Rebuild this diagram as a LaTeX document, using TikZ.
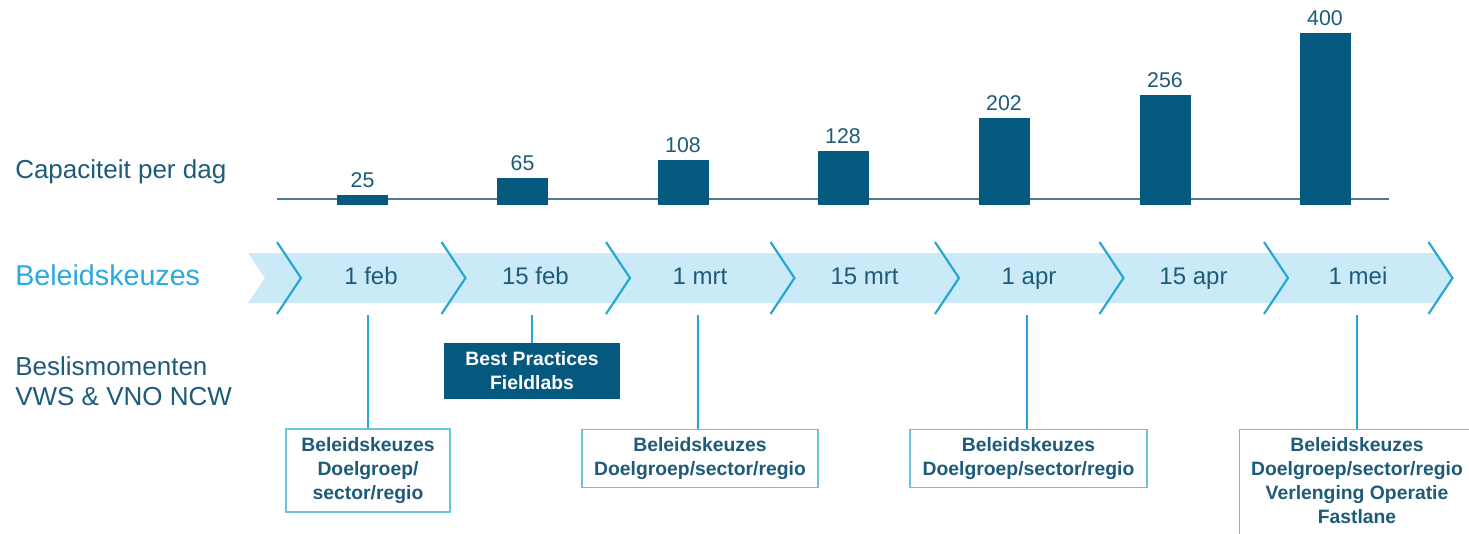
\documentclass[tikz,border=0pt]{standalone}
\usepackage{fontspec}
\setmainfont{Liberation Sans}
\definecolor{bardark}{HTML}{05597F}
\definecolor{txtdark}{HTML}{1D5B79}
\definecolor{bandfill}{HTML}{CBEAF7}
\definecolor{chev}{HTML}{25A6D5}
\definecolor{cyantxt}{HTML}{2AA9DB}
\definecolor{boxline}{HTML}{6CC2DD}
\definecolor{axisline}{HTML}{4C7E90}
\tikzset{
  bar/.style={fill=bardark},
  num/.style={text=txtdark, font=\fontsize{16}{18}\selectfont, inner sep=0pt},
  datelbl/.style={text=txtdark, font=\fontsize{18}{20}\selectfont, inner sep=0pt, anchor=base},
  chevline/.style={draw=chev, line width=1.6pt},
  conn/.style={draw=chev, line width=1.2pt},
  infobox/.style={draw=boxline, line width=1pt, fill=white, text=txtdark, align=center,
    font=\bfseries\fontsize{14.5}{18}\selectfont, inner sep=0pt},
  darkbox/.style={fill=bardark, text=white, align=center,
    font=\bfseries\fontsize{14.5}{18}\selectfont, inner sep=0pt},
  sidelbl/.style={text=txtdark, anchor=base west, inner sep=0pt, align=left}
}
\begin{document}
\begin{tikzpicture}[x=0.75pt, y=-0.75pt]
\useasboundingbox (0,0) rectangle (1469,533);
\clip (0,0) rectangle (1469,533);
% axis and bars
\draw[draw=axisline, line width=1.5pt] (277,199) -- (1389,199);
\foreach \cx/\top/\v [count=\i] in {362.5/195/25, 522.5/178/65, 683/160/108, 843/151/128, 1004/118/202, 1165/95/256, 1325/33/400} {
  \fill[bar] (\cx-25.5,\top) rectangle (\cx+25.5,205);
  \node[num] (n\i) at (\cx,\top-14.5) {\v};
}
% band
\fill[bandfill] (248,253) -- (1436,253) -- (1452.5,278) -- (1436,303) -- (248,303) -- (265,278) -- cycle;
\foreach \k in {0,...,7} {
  \pgfmathsetmacro{\tx}{301+164.5*\k}
  \draw[chevline] (\tx-24,242) -- (\tx,278) -- (\tx-24,314);
}
\foreach \lbl [count=\i] in {1 feb, 15 feb, 1 mrt, 15 mrt, 1 apr, 15 apr, 1 mei} {
  \pgfmathsetmacro{\lx}{301+164.5*(\i-1)+70}
  \node[datelbl] (d\i) at (\lx,284.5) {\lbl};
}
% side labels
\node[sidelbl, font=\fontsize{19.5}{22}\selectfont] (cap) at (15,178) {Capaciteit per dag};
\node[sidelbl, text=cyantxt, font=\fontsize{21.5}{24}\selectfont] (bel) at (15,285) {Beleidskeuzes};
\node[sidelbl, font=\fontsize{19.5}{22}\selectfont] (besl) at (15,405.7) {Beslismomenten\\[0.8pt]VWS \& VNO NCW};
% boxes
\node[infobox, minimum width=164*0.75pt, minimum height=83*0.75pt] (b1) at (368,470.5) {Beleidskeuzes\\Doelgroep/\\sector/regio};
\node[darkbox, minimum width=176*0.75pt, minimum height=56*0.75pt] (b2) at (532,371) {Best Practices\\Fieldlabs};
\node[infobox, minimum width=236*0.75pt, minimum height=58*0.75pt] (b3) at (700,458.5) {Beleidskeuzes\\Doelgroep/sector/regio};
\node[infobox, minimum width=237*0.75pt, minimum height=58*0.75pt] (b5) at (1028.5,458.5) {Beleidskeuzes\\Doelgroep/sector/regio};
\node[draw=boxline, line width=1pt, fill=white, anchor=north west, minimum width=240*0.75pt, minimum height=130*0.75pt, inner sep=0pt] (b7) at (1239,429) {};
\node[text=txtdark, align=center, font=\bfseries\fontsize{14.5}{18}\selectfont, inner sep=0pt] (t7) at (1357,481) {Beleidskeuzes\\Doelgroep/sector/regio\\Verlenging Operatie\\Fastlane};
% connectors
\coordinate (c1) at (368,315);
\coordinate (c2) at (532,315);
\coordinate (c3) at (698,315);
\coordinate (c5) at (1027,315);
\coordinate (c7) at (1357,315);
\draw[conn] (c1) -- (b1.north);
\draw[conn] (c2) -- (b2.north);
\draw[conn] (c3) -- (c3 |- b3.north);
\draw[conn] (c5) -- (c5 |- b5.north);
\draw[conn] (c7) -- (c7 |- b7.north);
\end{tikzpicture}
\end{document}
